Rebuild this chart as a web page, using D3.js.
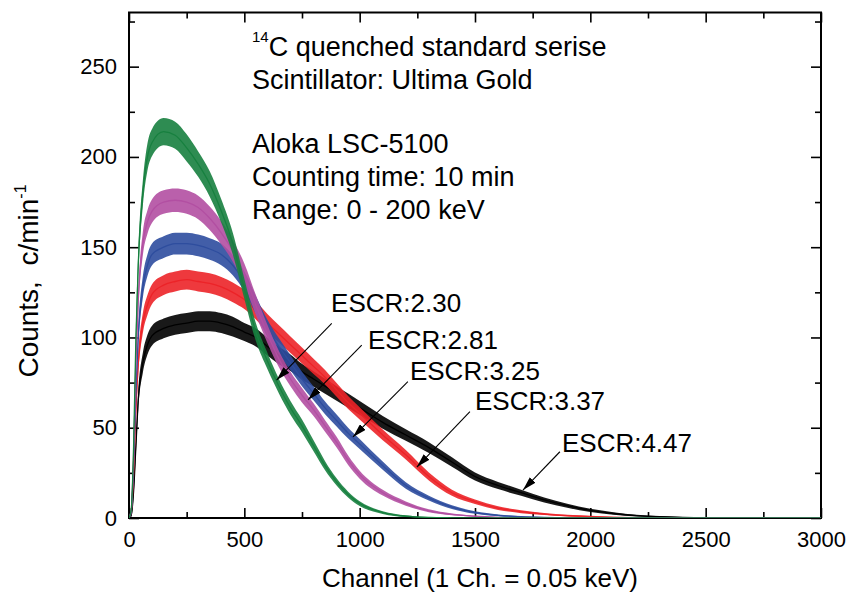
<!DOCTYPE html>
<html><head><meta charset="utf-8">
<script src="https://cdn.jsdelivr.net/npm/d3@7"></script>
<style>
body{margin:0;background:#fff}
svg{display:block}
text{font-family:"Liberation Sans",Arial,Helvetica,sans-serif;fill:#000}
</style>
</head><body>
<svg id="chart" width="846" height="593"></svg>
<script>
// ---- data ----
const channels = [0,10,20,30,40,60,80,100,150,200,250,300,350,400,450,500,550,600,650,700,750,800,850,900,950,1000,1100,1200,1300,1400,1500,1600,1700,1800,1900,2000,2100,2200,2300,2400,2500,2600,2800,3000];

const countsESCR230 = [0,5,40,100,140,180,200,208,214,212,205,196,185,170,152,127,103,87,73,61,51,40,29,20,13,8,3,1,0.3,0.1,0,0,0,0,0,0,0,0,0,0,0,0,0,0];
const countsESCR281 = [0,5,35,85,120,152,164,170,175,176,175,172,166,158,148,135,118,102,88,77,68,60,51,42,32,24,14,8,4,2,1,0.4,0.1,0,0,0,0,0,0,0,0,0,0,0];
const countsESCR325 = [0,4,30,70,100,128,140,146,150,152,152,151,149,146,140,131,118,105,95,86,77,69,61,54,47,41,29,18,11,6,3,1.5,0.7,0.3,0.1,0,0,0,0,0,0,0,0,0];
const countsESCR337 = [0,4,25,60,85,108,118,124,129,131,132,131,130,128,125,121,115,108,102,96,90,84,78,71,64,58,46,35,23,14,9,5.5,3.5,2.2,1.3,0.8,0.4,0.2,0.1,0,0,0,0,0];
const countsESCR447 = [0,2,15,40,65,86,96,101,105,107,108,109,109,108,106,103,100,95,90,86,81,77,73,69,65,61,53,46,39,31,23,18,14,10,6.8,4.2,2.5,1.3,0.7,0.3,0.1,0,0,0];

// visible half-width of the counting-noise band (counts)
const noiseESCR230 = [0,2,4,6,7,7,7.5,7.5,7.5,7.5,7.5,7,7,6.5,6,5.5,5,4.5,4,3.8,3.5,3,2.5,2,1.6,1.3,0.8,0.5,0.2,0.1,0,0,0,0,0,0,0,0,0,0,0,0,0,0];
const noiseESCR281 = [0,2,4,5.5,6,6.5,6.5,6.5,6.5,6.5,6.5,6.5,6.5,6.5,6,6,5.5,5,4.5,4,4,3.5,3.2,3,2.6,2.2,1.6,1.2,0.8,0.5,0.3,0.2,0.1,0,0,0,0,0,0,0,0,0,0,0];
const noiseESCR325 = [0,2,3.5,5,5.5,6,6,6,6,6,6,6,6,6,5.5,5.5,5,4.8,4.5,4.2,4,3.8,3.5,3.3,3,2.8,2.3,1.8,1.3,1,0.7,0.5,0.3,0.2,0.1,0,0,0,0,0,0,0,0,0];
const noiseESCR337 = [0,2,3.5,5,5.5,5.5,5.5,5.5,5.5,5.5,5.5,5.5,5.5,5.5,5.5,5.3,5,5,4.8,4.6,4.4,4.2,4,3.8,3.6,3.4,3,2.6,2.2,1.7,1.3,1,0.8,0.6,0.5,0.4,0.3,0.2,0.1,0,0,0,0,0];
const noiseESCR447 = [0,1.5,3,4.5,5,5.5,5.5,5.5,5.5,5.5,5.5,5.5,5.5,5.5,5.5,5,5,5,4.8,4.6,4.4,4.3,4.2,4,3.9,3.8,3.5,3.2,3,2.6,2.2,2,1.7,1.4,1.1,0.9,0.7,0.5,0.4,0.3,0.2,0.1,0,0];

const seriesLabels = ["ESCR:4.47","ESCR:3.37","ESCR:3.25","ESCR:2.81","ESCR:2.30"];
const seriesColors = ["#000000","#ec2328","#2e4d9e","#b24fa2","#17803f"];

const xMajorTicks = [0,500,1000,1500,2000,2500,3000];
const xMinorTicks = [250,750,1250,1750,2250,2750];
const yMajorTicks = [0,50,100,150,200,250];
const yMinorTicks = [25,75,125,175,225,275];

// annotation: label anchor (channel, counts) and arrow tail/tip in data units
const annLabels = ["ESCR:2.30","ESCR:2.81","ESCR:3.25","ESCR:3.37","ESCR:4.47"];
const annTextX  = [876,1036,1218,1500,1877];
const annTextY  = [114.1,93.6,76.4,59.8,36.6];
const annTailX  = [879,1009,1209,1478,1868];
const annTailY  = [107.8,95.8,75.5,58.9,36.7];
const annTipX   = [640,776,971,1248,1708];
const annTipY   = [76.4,65.4,44.9,28.2,15.5];

const infoLines = ["Scintillator: Ultima Gold","","Aloka LSC-5100","Counting time: 10 min","Range: 0 - 200 keV"];

// ---- chart ----
const svg = d3.select("#chart");
const L = 129, R = 821, T = 12.5, B = 518;
const x = d3.scaleLinear().domain([0,3000]).range([L,R]);
const y = d3.scaleLinear().domain([0,280]).range([B,T]);

svg.append("defs").append("clipPath").attr("id","plotclip")
  .append("rect").attr("x",L).attr("y",T).attr("width",R-L).attr("height",B-T);
const marker = svg.select("defs").append("marker")
  .attr("id","arrowhead").attr("viewBox","0 0 14 8").attr("refX",14).attr("refY",4)
  .attr("markerWidth",14).attr("markerHeight",8).attr("markerUnits","userSpaceOnUse")
  .attr("orient","auto");
marker.append("path").attr("d","M0,0 L14,4 L0,8 Z").attr("fill","#000");

const valuesList = [countsESCR447,countsESCR337,countsESCR325,countsESCR281,countsESCR230];
const noiseList  = [noiseESCR447,noiseESCR337,noiseESCR325,noiseESCR281,noiseESCR230];

// axes (ticks) first
function styleAxis(g){
  g.select(".domain").remove();
  g.selectAll(".tick line").attr("stroke","#000").attr("stroke-width",1.6);
  g.selectAll("text").style("font-size","22px").attr("fill","#000")
    .style("font-family","'Liberation Sans',Arial,sans-serif");
}
const fmt = d3.format("d");
svg.append("g").attr("transform",`translate(0,${B})`)
  .call(d3.axisBottom(x).tickValues(xMajorTicks).tickSizeInner(-10).tickSizeOuter(0).tickPadding(13).tickFormat(fmt)).call(styleAxis);
svg.append("g").attr("transform",`translate(0,${B})`)
  .call(d3.axisBottom(x).tickValues(xMinorTicks).tickSizeInner(-6).tickSizeOuter(0).tickFormat("")).call(styleAxis);
svg.append("g").attr("transform",`translate(0,${T})`)
  .call(d3.axisTop(x).tickValues(xMajorTicks).tickSizeInner(-10).tickSizeOuter(0).tickFormat("")).call(styleAxis);
svg.append("g").attr("transform",`translate(0,${T})`)
  .call(d3.axisTop(x).tickValues(xMinorTicks).tickSizeInner(-6).tickSizeOuter(0).tickFormat("")).call(styleAxis);
svg.append("g").attr("transform",`translate(${L},0)`)
  .call(d3.axisLeft(y).tickValues(yMajorTicks).tickSizeInner(-10).tickSizeOuter(0).tickPadding(12).tickFormat(fmt)).call(styleAxis);
svg.append("g").attr("transform",`translate(${L},0)`)
  .call(d3.axisLeft(y).tickValues(yMinorTicks).tickSizeInner(-6).tickSizeOuter(0).tickFormat("")).call(styleAxis);
svg.append("g").attr("transform",`translate(${R},0)`)
  .call(d3.axisRight(y).tickValues(yMajorTicks).tickSizeInner(-10).tickSizeOuter(0).tickFormat("")).call(styleAxis);
svg.append("g").attr("transform",`translate(${R},0)`)
  .call(d3.axisRight(y).tickValues(yMinorTicks).tickSizeInner(-6).tickSizeOuter(0).tickFormat("")).call(styleAxis);

svg.append("rect").attr("x",L).attr("y",T).attr("width",R-L).attr("height",B-T)
  .attr("fill","none").attr("stroke","#000").attr("stroke-width",2);

// spectra
const plot = svg.append("g").attr("clip-path","url(#plotclip)");
valuesList.forEach((vals,k)=>{
  const pts = channels.map((c,i)=>({c, v:vals[i], n:noiseList[k][i]}));
  const area = d3.area().curve(d3.curveMonotoneX)
    .x(d=>x(d.c)).y0(d=>y(Math.max(0,d.v-d.n))).y1(d=>y(d.v+d.n));
  const line = d3.line().curve(d3.curveMonotoneX).x(d=>x(d.c)).y(d=>y(d.v));
  const g = plot.append("g").attr("class","series").attr("data-label",seriesLabels[k]);
  g.append("path").attr("d",area(pts)).attr("fill",seriesColors[k]).attr("opacity",0.9);
  g.append("path").attr("d",line(pts)).attr("fill","none").attr("stroke",seriesColors[k]).attr("stroke-width",1.3);
});

// axis titles
svg.append("text").attr("x",480).attr("y",587).attr("text-anchor","middle")
  .style("font-size","26px").text("Channel (1 Ch. = 0.05 keV)");
const yt = svg.append("text").attr("transform","translate(38,281) rotate(-90)")
  .attr("text-anchor","middle").style("font-size","28px").attr("xml:space","preserve");
yt.append("tspan").text("Counts,  c/min");
yt.append("tspan").attr("dy",-12).style("font-size","16px").text("-1");

// info text block
const t1 = svg.append("text").attr("x",252).attr("y",56).style("font-size","27px");
t1.append("tspan").attr("dy",-14).style("font-size","15px").text("14");
t1.append("tspan").attr("dy",14).text("C quenched standard serise");
const lineY = [89,121,153,186,219];
infoLines.forEach((s,i)=>{ if(s) svg.append("text").attr("x",252).attr("y",lineY[i]).style("font-size","27px").text(s); });

// ESCR annotations
annLabels.forEach((s,i)=>{
  svg.append("line").attr("x1",x(annTailX[i])).attr("y1",y(annTailY[i]))
    .attr("x2",x(annTipX[i])).attr("y2",y(annTipY[i]))
    .attr("stroke","#000").attr("stroke-width",1.1).attr("marker-end","url(#arrowhead)");
  svg.append("text").attr("x",x(annTextX[i])).attr("y",y(annTextY[i]))
    .style("font-size","26px").text(s);
});
</script>
</body></html>
